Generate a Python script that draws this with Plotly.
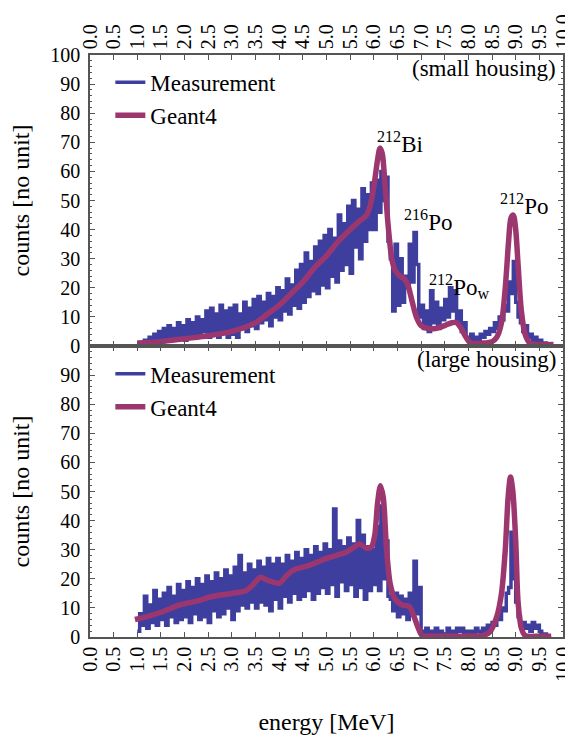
import numpy as np
import plotly.graph_objects as go

# ---------------- data ----------------
bin_start = 1.00
bin_width = 0.05

meas_small = [
    0, 1, 0, 2, 1, 3, 1, 4, 2, 5,
    1, 6, 2, 7, 3, 6, 2, 8, 3, 7,
    2, 9, 3, 8, 4, 10, 3, 9, 5, 12,
    3, 13, 4, 11, 3, 14, 5, 12, 3, 13,
    4, 14, 3, 11, 6, 15, 5, 13, 7, 16,
    6, 17, 8, 15, 9, 18, 7, 17, 10, 20,
    9, 19, 12, 23, 11, 21, 14, 26, 13, 28,
    15, 32, 17, 29, 19, 34, 18, 36, 21, 38,
    20, 40, 24, 37, 22, 45, 26, 42, 28, 48,
    25, 50, 34, 47, 30, 54, 36, 52, 40, 56,
    40, 57, 46, 60, 50, 58, 36, 30, 12, 35,
    14, 30, 15, 24, 20, 35, 22, 39, 28, 10,
    14, 6, 12, 5, 19, 8, 15, 6, 13, 9,
    16, 10, 20, 12, 19, 8, 12, 5, 8, 3,
    2, 4, 1, 3, 2, 4, 3, 5, 4, 6,
    5, 8, 6, 10, 9, 14, 12, 22, 18, 29,
    15, 10, 8, 5, 7, 3, 4, 2, 3, 1,
    2, 0, 1, 0, 0, 0,
]

meas_large = [
    2, 8, 4, 14, 3, 11, 5, 16, 4, 13,
    6, 15, 4, 17, 7, 14, 5, 18, 6, 16,
    7, 19, 5, 17, 8, 20, 6, 18, 7, 21,
    5, 19, 9, 22, 7, 20, 8, 23, 10, 21,
    6, 24, 9, 28, 11, 22, 10, 25, 12, 23,
    10, 26, 12, 24, 11, 27, 9, 25, 13, 27,
    10, 25, 14, 28, 12, 26, 15, 29, 13, 27,
    14, 30, 16, 28, 13, 31, 15, 29, 17, 32,
    15, 30, 18, 44, 14, 33, 19, 31, 16, 34,
    18, 32, 14, 40, 17, 35, 13, 31, 16, 30,
    18, 38, 16, 45, 20, 33, 14, 13, 9, 15,
    7, 14, 8, 13, 6, 15, 9, 26, 8, 17,
    2, 1, 3, 0, 2, 1, 3, 1, 2, 0,
    1, 3, 1, 2, 0, 3, 2, 3, 1, 2,
    1, 2, 1, 3, 2, 1, 3, 2, 4, 3,
    5, 4, 7, 6, 10, 9, 15, 17, 36, 20,
    12, 7, 4, 5, 3, 4, 2, 5, 3, 4,
    2, 0, 1, 0, 0, 0,
]

geant_small_E = [1.0, 1.5, 2.0, 2.5, 3.0, 3.5, 3.75, 4.0, 4.25, 4.5, 4.75, 5.0,
                 5.25, 5.5, 5.7, 5.85, 5.95, 6.02, 6.08, 6.13, 6.18, 6.23, 6.3,
                 6.38, 6.45, 6.55, 6.65, 6.72, 6.8, 6.9, 7.0, 7.15, 7.3, 7.5,
                 7.65, 7.75, 7.85, 7.95, 8.05, 8.3, 8.5, 8.6, 8.7, 8.78, 8.85,
                 8.9, 8.95, 9.0, 9.05, 9.12, 9.2, 9.3, 9.5, 9.8]
geant_small = [1, 1.5, 2.5, 3.5, 5, 8, 11, 14, 18, 22, 27, 31,
               36, 40, 43, 45, 50, 57, 64, 68, 66, 57, 42,
               30, 26, 24, 23, 21, 16, 10, 7, 6, 6, 7,
               8, 8, 6, 3, 1, 1, 1.5, 3, 8, 20, 36,
               44, 45, 40, 28, 12, 4, 1, 0.5, 0.5]

geant_large_E = [0.95, 1.2, 1.5, 1.9, 2.3, 2.6, 3.0, 3.3, 3.45, 3.6, 3.75, 4.0,
                 4.15, 4.3, 4.5, 4.7, 5.0, 5.2, 5.4, 5.6, 5.7, 5.85, 5.95, 6.02,
                 6.08, 6.14, 6.2, 6.27, 6.35, 6.45, 6.6, 6.75, 6.85, 6.93, 7.02,
                 7.2, 7.6, 8.0, 8.3, 8.45, 8.6, 8.7, 8.78, 8.84, 8.89, 8.94, 9.0,
                 9.05, 9.12, 9.2, 9.5, 9.75]
geant_large = [6, 7, 8.5, 11, 12.5, 14, 15, 16, 18, 20.5, 19.5, 18.5,
               21, 23, 24, 25, 27, 28, 29, 31, 32, 30.5, 31, 35,
               46, 52, 48, 30, 18, 13, 11, 10.5, 7, 3.5, 0.5,
               0.3, 0.3, 0.3, 0.5, 1.7, 7, 15, 30, 48, 55, 50, 33,
               12, 3, 0.5, 0.3, 0.3]

x_ticks = [round(0.5 * i, 1) for i in range(21)]
y_ticks_top = list(range(0, 101, 10))
y_ticks_bottom = list(range(0, 91, 10))

# ---------------- styling ----------------
BLUE = "rgb(62,62,158)"
MAG = "rgb(155,55,110)"
FONT = "Liberation Serif"
AX = "#555555"

meas_E_small = np.round(bin_start + bin_width * np.arange(len(meas_small)), 3)
meas_E_large = np.round(bin_start + bin_width * np.arange(len(meas_large)), 3)

fig = go.Figure()
fig.add_trace(go.Scatter(x=meas_E_small, y=meas_small, mode="lines", line_shape="hv",
                         line=dict(color=BLUE, width=3.5), name="Measurement",
                         xaxis="x", yaxis="y", legend="legend"))
fig.add_trace(go.Scatter(x=geant_small_E, y=geant_small, mode="lines", line_shape="spline",
                         line=dict(color=MAG, width=5.5, smoothing=0.8), name="Geant4",
                         xaxis="x", yaxis="y", legend="legend"))
fig.add_trace(go.Scatter(x=meas_E_large, y=meas_large, mode="lines", line_shape="hv",
                         line=dict(color=BLUE, width=3.5), name="Measurement",
                         xaxis="x2", yaxis="y2", legend="legend2"))
fig.add_trace(go.Scatter(x=geant_large_E, y=geant_large, mode="lines", line_shape="spline",
                         line=dict(color=MAG, width=5.5, smoothing=0.8), name="Geant4",
                         xaxis="x2", yaxis="y2", legend="legend2"))

tickfont = dict(family=FONT, size=20, color="black")
titlefont = dict(family=FONT, size=24, color="black")
common_x = dict(range=[0, 10], tickvals=x_ticks, ticktext=[f"{v:.1f}" for v in x_ticks],
                tickangle=-90, ticks="inside", ticklen=5, tickcolor=AX,
                showline=True, linecolor=AX, linewidth=1.5, mirror="ticks",
                showgrid=False, zeroline=False, tickfont=tickfont, automargin=False,
                ticklabeloverflow="allow")
common_y = dict(range=[0, 100], ticks="inside", ticklen=5, tickcolor=AX,
                showline=True, linecolor=AX, linewidth=1.5, mirror="ticks",
                showgrid=False, zeroline=False, tickfont=tickfont, automargin=False,
                ticklabelstandoff=4,
                minor=dict(dtick=2, ticks="inside", ticklen=2, tickcolor=AX))

# the page body adds an 8px offset, so the figure is 8px smaller
fig.update_layout(
    template="none",
    width=565, height=730,
    margin=dict(l=82, r=10, t=47, b=101),
    plot_bgcolor="white", paper_bgcolor="white",
    font=dict(family=FONT, size=20, color="black"),
    xaxis=dict(**common_x, side="top", anchor="y", domain=[0, 1]),
    yaxis=dict(**common_y, domain=[0.5, 1], anchor="x", tickvals=y_ticks_top,
               title=dict(text="counts [no unit]", font=titlefont, standoff=30)),
    xaxis2=dict(**common_x, side="bottom", anchor="y2", domain=[0, 1],
                title=dict(text="energy [MeV]", font=titlefont, standoff=32)),
    yaxis2=dict(**common_y, domain=[0, 0.5], anchor="x2", tickvals=y_ticks_bottom,
                title=dict(text="counts [no unit]", font=titlefont, standoff=40)),
    legend=dict(x=0.043, y=0.99, xanchor="left", yanchor="top", bgcolor="rgba(0,0,0,0)",
                font=dict(family=FONT, size=23), tracegroupgap=0),
    legend2=dict(x=0.043, y=0.489, xanchor="left", yanchor="top", bgcolor="rgba(0,0,0,0)",
                 font=dict(family=FONT, size=23), tracegroupgap=0),
    showlegend=True,
)

ann_font = dict(family=FONT, size=23, color="black")
annotations = [
    dict(text="(small housing)", xref="x domain", yref="y domain", x=0.99, y=1.005,
         xanchor="right", yanchor="top", showarrow=False, font=ann_font),
    dict(text="(large housing)", xref="x2 domain", yref="y2 domain", x=0.99, y=1.005,
         xanchor="right", yanchor="top", showarrow=False, font=ann_font),
    dict(text="<sup>212</sup>Bi", xref="x", yref="y", x=6.55, y=70, showarrow=False, font=ann_font),
    dict(text="<sup>216</sup>Po", xref="x", yref="y", x=7.15, y=43, showarrow=False, font=ann_font),
    dict(text="<sup>212</sup>Po<sub>w</sub>", xref="x", yref="y", x=7.8, y=20.5, showarrow=False, font=ann_font),
    dict(text="<sup>212</sup>Po", xref="x", yref="y", x=9.18, y=48.5, showarrow=False, font=ann_font),
]
fig.update_layout(annotations=annotations)

fig.write_html("out.html")
